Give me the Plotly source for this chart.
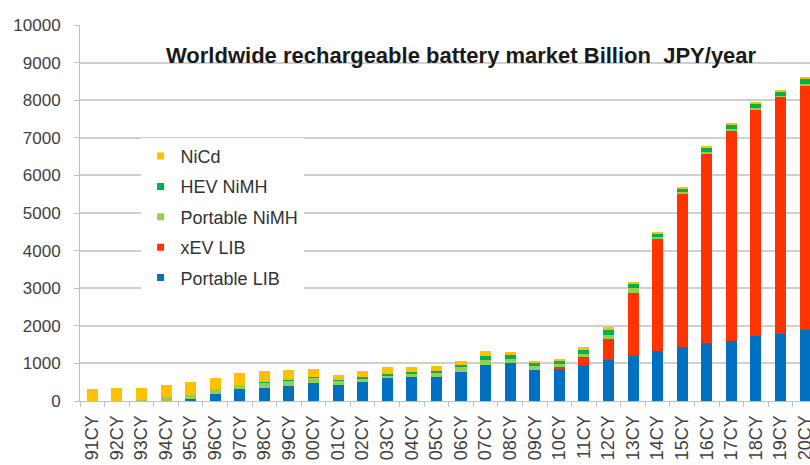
import plotly.graph_objects as go

years = ["91CY","92CY","93CY","94CY","95CY","96CY","97CY","98CY","99CY","00CY",
         "01CY","02CY","03CY","04CY","05CY","06CY","07CY","08CY","09CY","10CY",
         "11CY","12CY","13CY","14CY","15CY","16CY","17CY","18CY","19CY","20CY"]

portable_lib = [0, 0, 0, 5, 55, 185, 310, 345, 405, 483,
                420, 500, 605, 640, 640, 765, 950, 1013, 817, 857,
                970, 1103, 1191, 1324, 1440, 1546, 1607, 1722, 1793, 1899]
xev_lib = [0, 0, 0, 0, 0, 0, 0, 0, 0, 0,
           0, 0, 0, 0, 0, 0, 0, 0, 0, 44,
           204, 548, 1682, 2990, 4085, 5040, 5597, 6032, 6294, 6499]
portable_nimh = [0, 10, 30, 100, 115, 130, 120, 150, 135, 135,
                 120, 100, 60, 82, 105, 140, 150, 106, 106, 70,
                 88, 115, 133, 45, 35, 44, 40, 35, 35, 45]
hev_nimh = [0, 0, 0, 0, 0, 0, 5, 10, 15, 25,
            30, 35, 40, 40, 60, 62, 106, 115, 90, 97,
            106, 133, 115, 105, 90, 120, 120, 115, 118, 130]
nicd = [310, 335, 315, 325, 325, 295, 315, 282, 258, 212,
        125, 167, 204, 145, 133, 106, 115, 62, 62, 53,
        62, 62, 45, 40, 25, 30, 34, 24, 25, 29]

series = [
    ("Portable LIB", portable_lib, "#0070C0"),
    ("xEV LIB", xev_lib, "#FF3300"),
    ("Portable NiMH", portable_nimh, "#92D050"),
    ("HEV NiMH", hev_nimh, "#00B050"),
    ("NiCd", nicd, "#FFC000"),
]

FONT = "Arial, Liberation Sans, sans-serif"

fig = go.Figure()
for name, vals, col in series:
    fig.add_trace(go.Bar(x=years, y=vals, name=name,
                         marker=dict(color=col, line=dict(width=0)),
                         showlegend=False))
# legend entries with small square symbols (top entry = NiCd)
for name, vals, col in reversed(series):
    fig.add_trace(go.Scatter(x=[None], y=[None], mode="markers", name=name,
                             legendgroup=name,
                             marker=dict(symbol="square", size=7, color=col)))

fig.update_layout(
    width=810, height=465,
    margin=dict(l=80, r=0, t=25, b=64, autoexpand=False),
    paper_bgcolor="white", plot_bgcolor="white",
    barmode="stack", bargap=0.55,
    font=dict(family=FONT, size=17, color="#404040"),
    showlegend=True,
    legend=dict(x=0.083, y=0.70, xanchor="left", yanchor="top",
                bgcolor="white", traceorder="grouped", tracegroupgap=4,
                font=dict(family=FONT, size=18, color="#333333"),
                itemwidth=30),
    annotations=[dict(text="<b>Worldwide rechargeable battery market Billion  JPY/year</b>",
                      xref="paper", yref="paper", x=0.522, y=0.918,
                      xanchor="center", yanchor="middle", showarrow=False,
                      font=dict(family=FONT, size=22, color="#1a1a1a"))],
)
fig.update_xaxes(
    type="category", range=[-0.5, 29.2], tickangle=-90,
    showline=True, linecolor="#BFBFBF", linewidth=1,
    ticks="outside", tickson="boundaries", ticklen=5, tickcolor="#BFBFBF",
    tickfont=dict(family=FONT, size=18, color="#404040"),
    ticklabelstandoff=6,
    showgrid=False, automargin=False, fixedrange=True,
)
fig.update_yaxes(
    range=[0, 10000], dtick=1000, tick0=0, tickformat="d",
    showline=True, linecolor="#BFBFBF", linewidth=1,
    ticks="outside", ticklen=5, tickcolor="#BFBFBF",
    showgrid=True, gridcolor="#CFCFCF", gridwidth=1.5,
    zeroline=False,
    tickfont=dict(family=FONT, size=17, color="#404040"),
    ticklabelstandoff=10, automargin=False,
)

fig.write_html("out.html", config={"displayModeBar": False},
               post_script="document.body.style.margin='0';")
